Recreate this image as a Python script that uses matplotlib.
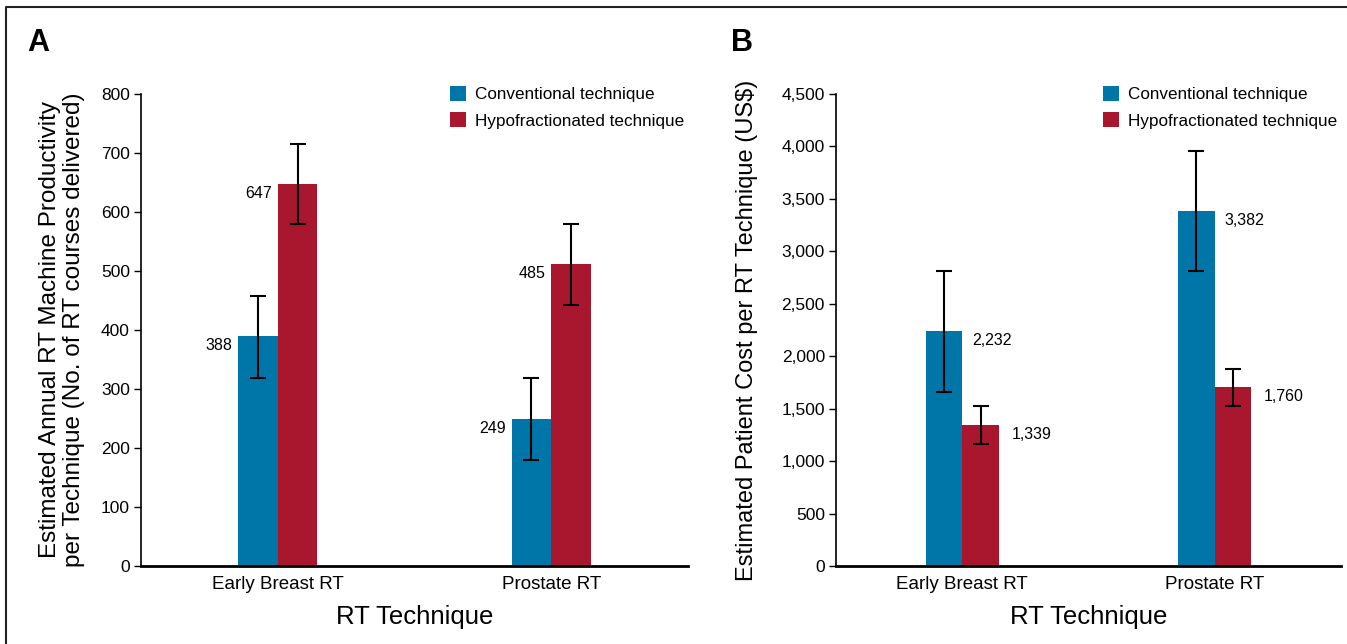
import matplotlib
matplotlib.use("Agg")
import matplotlib.pyplot as plt
from matplotlib.lines import Line2D
from matplotlib.ticker import FuncFormatter
import numpy as np

# ---- data ----
categories = ["Early Breast RT", "Prostate RT"]
series = ["Conventional technique", "Hypofractionated technique"]

# panel A: annual machine productivity (bar heights as drawn)
prod_conv = [390, 249]
prod_hypo = [648, 512]
prod_conv_lo = [319, 180]
prod_conv_hi = [458, 319]
prod_hypo_lo = [580, 442]
prod_hypo_hi = [716, 580]
prod_conv_txt = ["388", "249"]
prod_hypo_txt = ["647", "485"]

# panel B: patient cost (US$)
cost_conv = [2240, 3385]
cost_hypo = [1344, 1707]
cost_conv_lo = [1659, 2812]
cost_conv_hi = [2812, 3959]
cost_hypo_lo = [1163, 1525]
cost_hypo_hi = [1525, 1881]
cost_conv_txt = ["2,232", "3,382"]
cost_hypo_txt = ["1,339", "1,760"]

c_conv = "#0076a8"
c_hypo = "#a8172e"
plt.rcParams["font.family"] = ["Liberation Sans", "DejaVu Sans"]

W, H = 1347, 644
fig = plt.figure(figsize=(W / 100, H / 100), dpi=100)


def px_axes(x0, x1, y_top, y_bot):
    return fig.add_axes([x0 / W, 1 - y_bot / H, (x1 - x0) / W, (y_bot - y_top) / H])


def panel(ax, conv, hypo, clo, chi, hlo, hhi, ctxt, htxt, ymax, ystep, label_side, leg_x):
    x = np.arange(len(categories))
    w = 0.145
    ax.bar(x - w / 2, conv, w, color=c_conv, label=series[0])
    ax.bar(x + w / 2, hypo, w, color=c_hypo, label=series[1])
    conv = np.array(conv); hypo = np.array(hypo)
    ax.errorbar(x - w / 2, conv, yerr=[conv - np.array(clo), np.array(chi) - conv],
                fmt="none", ecolor="black", elinewidth=1.5, capsize=6, capthick=1.5)
    ax.errorbar(x + w / 2, hypo, yerr=[hypo - np.array(hlo), np.array(hhi) - hypo],
                fmt="none", ecolor="black", elinewidth=1.5, capsize=6, capthick=1.5)
    for i in range(len(categories)):
        if label_side == "left":
            ax.annotate(ctxt[i], (x[i] - w, conv[i]), xytext=(-4, -7), textcoords="offset points",
                        ha="right", va="center", fontsize=11.5)
            ax.annotate(htxt[i], (x[i], hypo[i]), xytext=(-4, -7), textcoords="offset points",
                        ha="right", va="center", fontsize=11.5)
        else:
            ax.annotate(ctxt[i], (x[i], conv[i]), xytext=(7, -7), textcoords="offset points",
                        ha="left", va="center", fontsize=11.5)
            ax.annotate(htxt[i], (x[i] + w, hypo[i]), xytext=(9, -7), textcoords="offset points",
                        ha="left", va="center", fontsize=11.5)
    ax.set_xlim(-0.5, 1.5)
    ax.set_ylim(0, ymax)
    ax.set_yticks(np.arange(0, ymax + 1, ystep))
    ax.yaxis.set_major_formatter(FuncFormatter(lambda v, p: f"{v:,.0f}"))
    ax.set_xticks(x)
    ax.set_xticklabels(categories, fontsize=13.5)
    ax.tick_params(axis="x", length=0, pad=7)
    ax.tick_params(axis="y", length=5, width=1, labelsize=12.5, pad=3)
    for s in ["top", "right"]:
        ax.spines[s].set_visible(False)
    ax.spines["left"].set_linewidth(1.2)
    ax.spines["bottom"].set_linewidth(2)
    ax.set_xlabel("RT Technique", fontsize=18.5)
    ax.xaxis.set_label_coords(0.5, -0.083)
    ax.legend(loc="upper left", bbox_to_anchor=(leg_x, 1.017), frameon=False,
              handlelength=0.95, handleheight=0.95, handletextpad=0.5, labelspacing=0.6,
              borderpad=0, borderaxespad=0, fontsize=12.3)


axA = px_axes(141, 688, 94, 566)
panel(axA, prod_conv, prod_hypo, prod_conv_lo, prod_conv_hi, prod_hypo_lo, prod_hypo_hi,
      prod_conv_txt, prod_hypo_txt, 800, 100, "left", 0.565)
axA.set_ylabel("Estimated Annual RT Machine Productivity\nper Technique (No. of RT courses delivered)",
               fontsize=17.5, linespacing=1.15)
axA.yaxis.set_label_coords(-0.102, 0.5)

axB = px_axes(836, 1341, 94, 566)
panel(axB, cost_conv, cost_hypo, cost_conv_lo, cost_conv_hi, cost_hypo_lo, cost_hypo_hi,
      cost_conv_txt, cost_hypo_txt, 4500, 500, "right", 0.529)
axB.set_ylabel("Estimated Patient Cost per RT Technique (US$)", fontsize=17)
axB.yaxis.set_label_coords(-0.155, 0.5)

fig.text(27 / W, 1 - 28 / H, "A", fontsize=22, fontweight="bold", va="top", ha="left")
fig.text(731 / W, 1 - 28 / H, "B", fontsize=22, fontweight="bold", va="top", ha="left")

# partial frame (top and left edges)
fig.add_artist(Line2D([6 / W, 6 / W, 1], [0, 1 - 7 / H, 1 - 7 / H], transform=fig.transFigure,
                      color="#222222", lw=1.5))

fig.savefig("out.png", dpi=100)
